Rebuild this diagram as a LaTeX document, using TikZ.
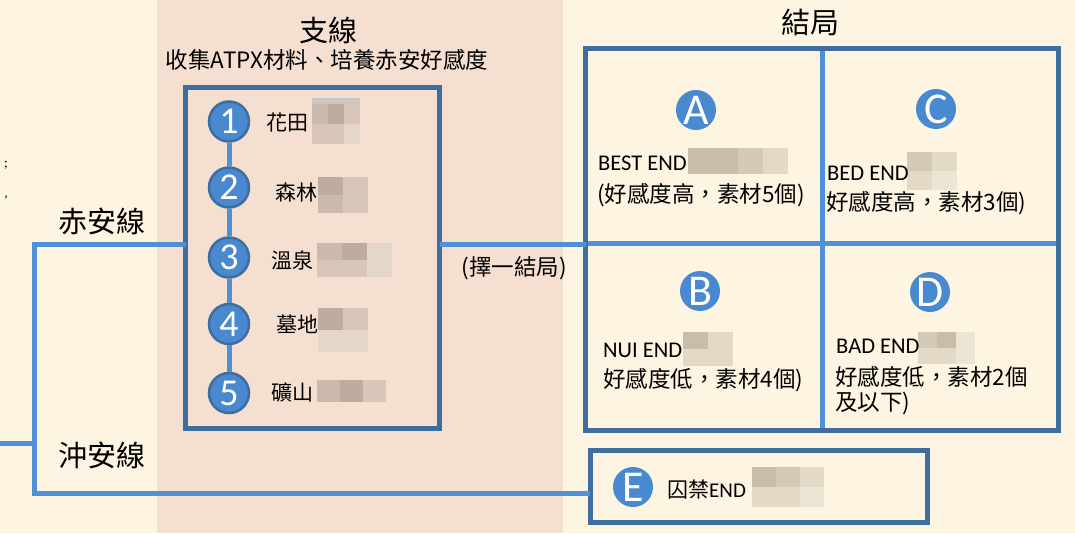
\documentclass[tikz,border=0pt]{standalone}
\usepackage{fontspec}
\setmainfont{Carlito}
\newfontfamily\cjk{Noto Sans CJK TC}
\definecolor{cream}{HTML}{FEF4E2}
\definecolor{pinkband}{HTML}{F5DFD1}
\definecolor{dkblue}{HTML}{3E6D9F}
\definecolor{ltblue}{HTML}{4F90D6}
\definecolor{cfill}{HTML}{4889CF}
\definecolor{mos1}{HTML}{BEAD9F}
\definecolor{mos2}{HTML}{CBB9AB}
\definecolor{mos3}{HTML}{D8C7B9}
\definecolor{mos4}{HTML}{E4D6C8}
\definecolor{mosA}{HTML}{C8BDAB}
\definecolor{mosB}{HTML}{D3C9B7}
\definecolor{mosC}{HTML}{E2D9C6}
\definecolor{mosD}{HTML}{EDE5D3}
\newcommand\mosaicblk[5]{%
  \foreach \c/\r/\s in {#5}{\fill[mos\s] ({#1+\c*#3},{#2+\r*#4}) rectangle ++(#3,#4);}}
\tikzset{
  conn/.style={draw=ltblue, line width=5pt},
  frame/.style={draw=dkblue, line width=5pt, inner sep=0pt, outer sep=0pt, rectangle},
  numc/.style={circle, fill=cfill, draw=dkblue, line width=2.5pt, minimum size=40pt, inner sep=0pt, text=white, font=\fontsize{38}{38}\selectfont},
  letc/.style={circle, fill=cfill, minimum size=40pt, inner sep=0pt, text=white, font=\fontsize{44}{44}\selectfont},
  title/.style={font=\cjk\fontsize{29}{32}\selectfont, inner sep=0pt},
  sub/.style={font=\cjk\fontsize{22.5}{25}\selectfont, inner sep=0pt},
  lbl/.style={font=\cjk\fontsize{21}{26}\selectfont, inner sep=0pt, anchor=west},
  etxt/.style={font=\cjk\fontsize{22.5}{26}\selectfont, inner sep=0pt, anchor=west},
  lat/.style={font=\fontsize{22.5}{26}\selectfont, inner sep=0pt, anchor=west},
}
\begin{document}
\begin{tikzpicture}[x=1pt,y=-1pt]
\useasboundingbox (0,0) rectangle (1075,533);
\fill[cream] (0,0) rectangle (1075,533);
\fill[pinkband] (157,0) rectangle (563,533);
% left fragments
\node[font=\fontsize{14}{14}\selectfont, inner sep=0pt] (frag1) at (6,165) {;};
\node[font=\fontsize{14}{14}\selectfont, inner sep=0pt] (frag2) at (6,198) {,};
% titles
\node[title] (tbranch) at (328,30) {支線};
\node[sub] (tsub) at (327,60) {收集ATPX材料、培養赤安好感度};
\node[title] (tend) at (810,22) {結局};
\node[title] (tred) at (102,221) {赤安線};
\node[title] (toki) at (102,455) {沖安線};
% frames
\node[frame, minimum width=254pt, minimum height=341pt] (branch) at (312.5,258) {};
\coordinate (vt) at (822,48);
\coordinate (vb) at (822,430);
\coordinate (hl) at (585.5,243.5);
\coordinate (hr) at (1058,243.5);
\draw[conn] (vt) -- (vb);
\draw[conn] (hl) -- (hr);
\node[frame, minimum width=472.5pt, minimum height=382pt] (endbox) at (821.75,239) {};
\node[frame, minimum width=337pt, minimum height=72pt] (ebox) at (758.5,486) {};
% connectors
\coordinate (jt) at (34.5,244.5);
\coordinate (jb) at (34.5,493);
\coordinate (ls) at (0,443);
\coordinate (jm) at (34.5,443);
\draw[conn] (ls) -- (jm);
\draw[conn] ([yshift=2.5pt]jt) -- ([yshift=-2.5pt]jb);
\draw[conn] ([xshift=-2.5pt]jt) -- (jt -| branch.west);
\draw[conn] ([xshift=-2.5pt]jb) -- (jb -| ebox.west);
\draw[conn] (branch.east |- jt) -- (endbox.west |- jt);
\node[etxt, anchor=center] (choose) at (514,268) {(擇一結局)};
% numbered spots
\node[numc] (n1) at (229,121.5) {1};
\node[numc] (n2) at (229,187.5) {2};
\node[numc] (n3) at (229,257.5) {3};
\node[numc] (n4) at (229,324) {4};
\node[numc] (n5) at (229,393) {5};
\draw[conn] (n1) -- (n2) (n2) -- (n3) (n3) -- (n4) (n4) -- (n5);
\node[lbl] (l1) at (266,123) {花田};
\node[lbl] (l2) at (275,193) {森林};
\node[lbl] (l3) at (271,260) {溫泉};
\node[lbl] (l4) at (276,324) {墓地};
\node[lbl] (l5) at (271,392) {礦山};
\fill[mos1!70!gray!60] (312,98) rectangle (360,104);
\mosaicblk{312}{104}{16}{20}{0/0/2,1/0/1,2/0/3,0/1/3,1/1/3,2/1/4}
\mosaicblk{318}{177}{25}{18}{0/0/1,1/0/3,0/1/2,1/1/3}
\mosaicblk{317}{243}{25}{17}{0/0/2,1/0/1,2/0/4,0/1/3,1/1/3,2/1/4}
\mosaicblk{318}{308}{25}{22}{0/0/1,1/0/3,0/1/4,1/1/4}
\mosaicblk{317}{380}{23}{22}{0/0/2,1/0/1,2/0/3}
% endings
\node[letc] (cA) at (696,110) {A};
\node[letc] (cC) at (936,109) {C};
\node[letc] (cB) at (700,291) {B};
\node[letc] (cD) at (930,292) {D};
\node[letc] (cE) at (633,487) {E};
\mosaicblk{688}{148}{25}{26}{0/0/A,1/0/A,2/0/B,3/0/C}
\mosaicblk{907}{152}{25}{19}{0/0/B,1/0/C,0/1/C,1/1/D}
\mosaicblk{683}{332}{25}{17}{0/0/A,1/0/C,0/1/C,1/1/C}
\mosaicblk{918}{332}{19}{16}{0/0/B,1/0/A,2/0/D,0/1/C,1/1/C,2/1/D}
\mosaicblk{752}{467}{24}{20}{0/0/A,1/0/B,2/0/C,0/1/C,1/1/C,2/1/D}
\node[lat] (eA1) at (598,163) {BEST END};
\node[etxt] (eA2) at (597,195) {(好感度高，素材5個)};
\node[lat] (eC1) at (827,173) {BED END};
\node[etxt] (eC2) at (826,203) {好感度高，素材3個)};
\node[lat] (eB1) at (603,350) {NUI END};
\node[etxt] (eB2) at (603,380) {好感度低，素材4個)};
\node[lat] (eD1) at (836,346) {BAD END};
\node[etxt] (eD2) at (835,377) {好感度低，素材2個};
\node[etxt] (eD3) at (835,403) {及以下)};
\node[lbl] (eE) at (667,490) {囚禁{\fontspec{Carlito}END}};
\end{tikzpicture}
\end{document}
